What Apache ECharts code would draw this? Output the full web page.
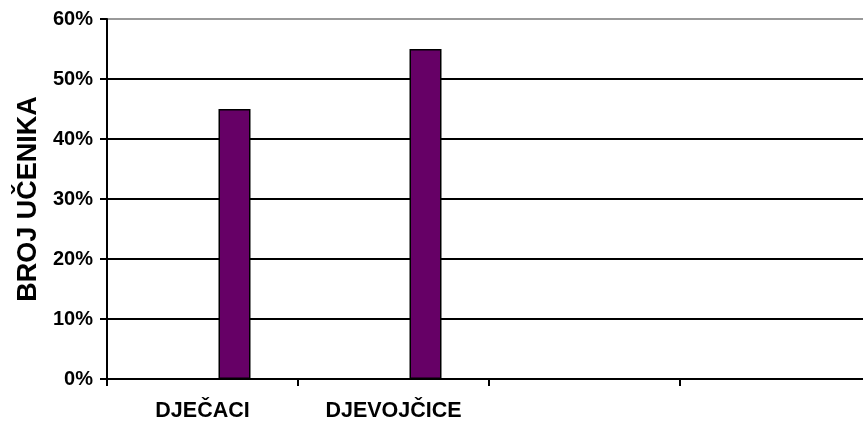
<!DOCTYPE html>
<html><head><meta charset="utf-8">
<script src="https://cdn.jsdelivr.net/npm/echarts@6/dist/echarts.min.js"></script>
<style>html,body{margin:0;padding:0;background:#fff;overflow:hidden;width:863px;height:425px}#c{width:871px;height:425px}</style>
</head><body><div id="c"></div>
<script>
const categories = ['DJEČACI', 'DJEVOJČICE', '', ''];
const emptyA = [null, null, null, null];
const emptyB = [null, null, null, null];
const values = [45, 55, null, null];
const yTicks = [0, 10, 20, 30, 40, 50, 60];

const chart = echarts.init(document.getElementById('c'));
const F = '"Liberation Sans", Arial, sans-serif';
chart.setOption({
  animation: false,
  grid: {left: 107, top: 19, bottom: 46, right: 0, containLabel: false},
  xAxis: {
    type: 'category', data: categories,
    axisLine: {lineStyle: {color: '#000', width: 2}},
    axisTick: {show: true, length: 7, lineStyle: {color: '#000', width: 2}},
    axisLabel: {color: '#000', fontFamily: F, fontWeight: 'bold', fontSize: 21.5, margin: 21}
  },
  yAxis: {
    type: 'value', min: yTicks[0], max: yTicks[yTicks.length - 1], interval: 10,
    name: 'BROJ UČENIKA', nameLocation: 'middle', nameGap: 65,
    nameTextStyle: {color: '#000', fontFamily: F, fontWeight: 'bold', fontSize: 27},
    axisLine: {show: true, lineStyle: {color: '#000', width: 2}},
    axisTick: {show: true, length: 7, lineStyle: {color: '#000', width: 2}},
    axisLabel: {color: '#000', fontFamily: F, fontWeight: 'bold', fontSize: 20, margin: 14, formatter: '{value}%'},
    splitLine: {show: true, lineStyle: {color: ['#000', '#000', '#000', '#000', '#000', '#000', '#999'], width: 2}}
  },
  series: [
    {type: 'bar', data: emptyA, barWidth: 32, barGap: '0%'},
    {type: 'bar', data: emptyB, barWidth: 32, barGap: '0%'},
    {type: 'bar', data: values, barWidth: 32, barGap: '0%',
     itemStyle: {color: '#660066', borderColor: '#000', borderWidth: 1.5}}
  ]
});
</script></body></html>
